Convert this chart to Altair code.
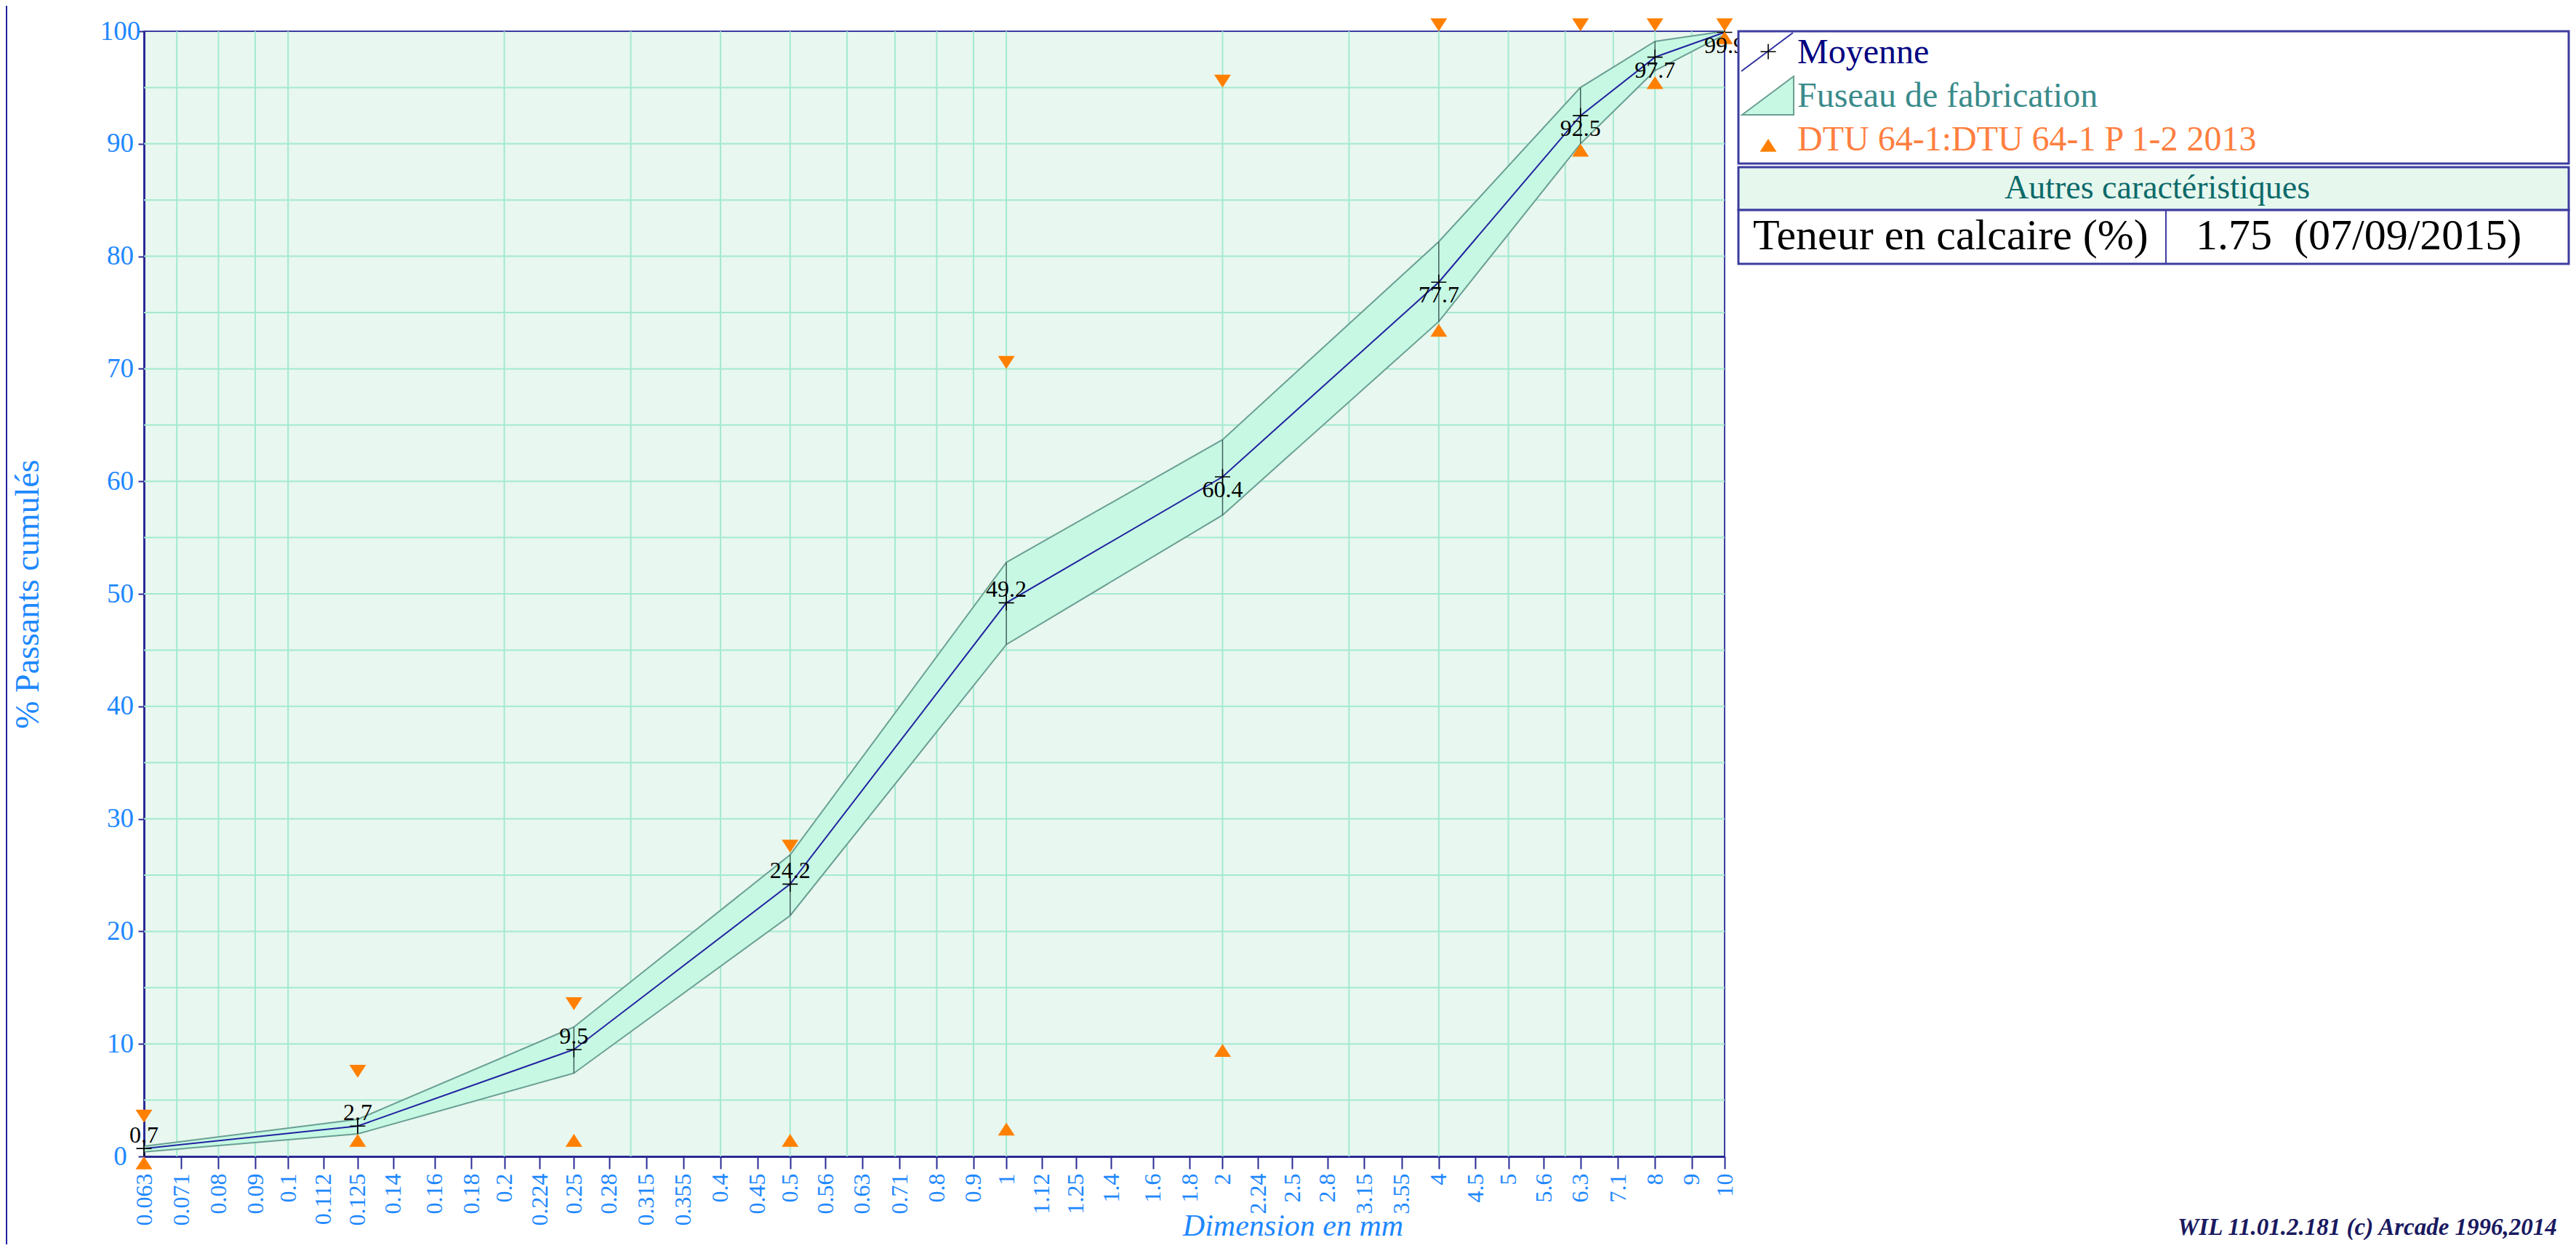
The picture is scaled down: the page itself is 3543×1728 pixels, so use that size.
import altair as alt
import pandas as pd

# ---------------- data ----------------
sieves = [0.063, 0.125, 0.25, 0.5, 1, 2, 4, 6.3, 8, 10]
mean_pass = [0.7, 2.7, 9.5, 24.2, 49.2, 60.4, 77.7, 92.5, 97.7, 99.9]
fuseau_upper = [0.9, 3.3, 11.5, 26.8, 52.8, 63.7, 81.3, 95.0, 99.1, 100.0]
fuseau_lower = [0.4, 2.0, 7.4, 21.4, 45.5, 57.0, 74.2, 90.0, 96.5, 99.7]
dtu_upper = [3, 7, 13, 27, 70, 95, 100, 100, 100, 100]
dtu_lower = [0, 2, 2, 2, 3, 10, 74, 90, 96, 100]

x_tick_values = [0.063, 0.071, 0.08, 0.09, 0.1, 0.112, 0.125, 0.14, 0.16, 0.18,
                 0.2, 0.224, 0.25, 0.28, 0.315, 0.355, 0.4, 0.45, 0.5, 0.56,
                 0.63, 0.71, 0.8, 0.9, 1, 1.12, 1.25, 1.4, 1.6, 1.8, 2, 2.24,
                 2.5, 2.8, 3.15, 3.55, 4, 4.5, 5, 5.6, 6.3, 7.1, 8, 9, 10]
x_grid_values = [0.07, 0.08, 0.09, 0.1, 0.2, 0.3, 0.4, 0.5, 0.6, 0.7, 0.8, 0.9,
                 1, 2, 3, 4, 5, 6, 7, 8, 9]
y_tick_values = [0, 10, 20, 30, 40, 50, 60, 70, 80, 90, 100]
y_grid_values = [5, 10, 15, 20, 25, 30, 35, 40, 45, 50, 55, 60, 65, 70, 75, 80, 85, 90, 95]

legend_labels = ["Moyenne", "Fuseau de fabrication", "DTU 64-1:DTU 64-1 P 1-2 2013"]
table_title = "Autres caractéristiques"
table_row = ["Teneur en calcaire (%)", "1.75 \u00a0(07/09/2015)"]
x_title = "Dimension en mm"
y_title = "% Passants cumulés"
footer = "WIL 11.01.2.181 (c) Arcade 1996,2014"

# ---------------- styles ----------------
FONT = "Liberation Serif"
NAVY = "#000080"
AXIS_NAVY = "#2a2a96"
BLUE = "#1e88ff"
GRID = "#a3ead0"
BG = "#e8f7ef"
BAND_FILL = "#c6f8e3"
BAND_STROKE = "#6a9f94"
ORANGE = "#ff8000"
TEAL = "#3a8b8b"

W, H = 2174, 1548

df = pd.DataFrame({
    "sieve": sieves,
    "mean": mean_pass,
    "upper": fuseau_upper,
    "lower": fuseau_lower,
    "dtu_up": dtu_upper,
    "dtu_low": dtu_lower,
})
one = pd.DataFrame({"k": [0]})

xs = alt.Scale(type="log", domain=[0.063, 10], nice=False)
ys = alt.Scale(domain=[0, 100], nice=False, zero=False)

x_axis = alt.Axis(
    values=x_tick_values, format="~g", labelAngle=-90, labelFont=FONT,
    labelFontSize=32, labelColor=BLUE, labelOverlap=False, labelFlush=False,
    labelPadding=6, tickSize=17, tickColor=AXIS_NAVY, tickWidth=2,
    domainColor=AXIS_NAVY, domainWidth=3, grid=False,
    title=x_title, titleFont=FONT, titleFontStyle="italic", titleFontSize=42,
    titleFontWeight="normal", titleColor=BLUE, titleX=1580, titleY=108,
    titleAlign="center", titleBaseline="alphabetic",
)
y_axis = alt.Axis(
    values=y_tick_values, labelFont=FONT, labelFontSize=37, labelColor=BLUE,
    labelAlign="center", labelBaseline="middle", labelPadding=25,
    tickSize=8, tickColor=AXIS_NAVY, tickWidth=2, domainColor=AXIS_NAVY,
    domainWidth=3, grid=False,
    title=y_title, titleFont=FONT, titleFontSize=46, titleFontWeight="normal",
    titleColor=BLUE, titleX=-160, titleY=H / 2, titleAngle=270,
    titleAlign="center", titleBaseline="middle",
)


def XQ(field):
    return alt.X(field, scale=xs, axis=x_axis)


def YQ(field):
    return alt.Y(field, scale=ys, axis=y_axis)


hgrid = alt.Chart(pd.DataFrame({"g": y_grid_values})).mark_rule(
    color=GRID, strokeWidth=2
).encode(y=YQ("g:Q"))

vgrid = alt.Chart(pd.DataFrame({"g": x_grid_values})).mark_rule(
    color=GRID, strokeWidth=2
).encode(x=XQ("g:Q"))

band = alt.Chart(df).mark_area(color=BAND_FILL, opacity=1).encode(
    x=XQ("sieve:Q"), y=YQ("lower:Q"), y2="upper:Q"
)
band_up = alt.Chart(df).mark_line(color=BAND_STROKE, strokeWidth=2).encode(
    x=XQ("sieve:Q"), y=YQ("upper:Q")
)
band_low = alt.Chart(df).mark_line(color=BAND_STROKE, strokeWidth=2).encode(
    x=XQ("sieve:Q"), y=YQ("lower:Q")
)
vrules = alt.Chart(df).mark_rule(color="#3f5f5a", strokeWidth=1.5).encode(
    x=XQ("sieve:Q"), y=YQ("lower:Q"), y2="upper:Q"
)

mean_line = alt.Chart(df).mark_line(color="#2323a0", strokeWidth=2).encode(
    x=XQ("sieve:Q"), y=YQ("mean:Q"),
)

PLUS = "M-1,0L1,0M0,-1L0,1"
TRI_UP = "M0,0L-0.65,1L0.65,1Z"
TRI_DOWN = "M0,0L-0.65,-1L0.65,-1Z"

plus = alt.Chart(df).mark_point(
    shape=PLUS, filled=False, size=441, color="black", strokeWidth=1.6, opacity=1
).encode(x=XQ("sieve:Q"), y=YQ("mean:Q"))

tri_down = alt.Chart(df).mark_point(
    shape=TRI_DOWN, filled=True, size=1253, color=ORANGE, opacity=1, strokeWidth=0
).encode(x=XQ("sieve:Q"), y=YQ("dtu_up:Q"))

tri_up = alt.Chart(df).mark_point(
    shape=TRI_UP, filled=True, size=1253, color=ORANGE, opacity=1, strokeWidth=0
).encode(x=XQ("sieve:Q"), y=YQ("dtu_low:Q"))

lab_above = alt.Chart(df).transform_filter("datum.mean < 55").mark_text(
    font=FONT, fontSize=32, color="black", align="center", baseline="middle", dy=-18
).encode(x=XQ("sieve:Q"), y=YQ("mean:Q"),
         text=alt.Text("mean:Q", format=".1f"))
lab_below = alt.Chart(df).transform_filter("datum.mean >= 55").mark_text(
    font=FONT, fontSize=32, color="black", align="center", baseline="middle", dy=18
).encode(x=XQ("sieve:Q"), y=YQ("mean:Q"),
         text=alt.Text("mean:Q", format=".1f"))

# ---------------- legend / table (pixel layout, outside plot) ----------------
LX0, LX1 = 2193, 3335
box_style = dict(stroke="#3c3ca0", strokeWidth=3)

legend_box = alt.Chart(one).mark_rect(fill="white", **box_style).encode(
    x=alt.value(LX0), x2=alt.value(LX1), y=alt.value(0), y2=alt.value(182))

leg_line = alt.Chart(one).mark_rule(color="#3030a0", strokeWidth=2).encode(
    x=alt.value(2197), x2=alt.value(2268), y=alt.value(55), y2=alt.value(2))
leg_plus = alt.Chart(one).mark_point(
    shape=PLUS, filled=False, size=441, color="black", strokeWidth=1.6, opacity=1
).encode(x=alt.value(2234), y=alt.value(28))
leg_band = alt.Chart(one).mark_point(
    shape="M-1,0.746L1,-0.746L1,0.746Z", filled=True, fill=BAND_FILL,
    stroke=BAND_STROKE, strokeWidth=2, size=5041, opacity=1
).encode(x=alt.value(2233.5), y=alt.value(88.5))
leg_tri = alt.Chart(one).mark_point(
    shape=TRI_UP, filled=True, size=1253, color=ORANGE, opacity=1, strokeWidth=0
).encode(x=alt.value(2234), y=alt.value(148))


def txt(s, x, y, size, color, align="left", style="normal", weight="normal"):
    return alt.Chart(one).mark_text(
        text=s, font=FONT, fontSize=size, color=color, align=align,
        baseline="alphabetic", fontStyle=style, fontWeight=weight
    ).encode(x=alt.value(x), y=alt.value(y))


leg_t1 = txt(legend_labels[0], 2274, 44, 48, NAVY)
leg_t2 = txt(legend_labels[1], 2274, 104, 48, TEAL)
leg_t3 = txt(legend_labels[2], 2274, 164, 48, "#ff7f40")

tab_head = alt.Chart(one).mark_rect(fill="#e6f7ee", **box_style).encode(
    x=alt.value(LX0), x2=alt.value(LX1), y=alt.value(187), y2=alt.value(246))
tab_row = alt.Chart(one).mark_rect(fill="white", **box_style).encode(
    x=alt.value(LX0), x2=alt.value(LX1), y=alt.value(246), y2=alt.value(320))
tab_div = alt.Chart(one).mark_rule(color="#3c3ca0", strokeWidth=2).encode(
    x=alt.value(2781), y=alt.value(246), y2=alt.value(320))
tab_t0 = txt(table_title, 2769, 230, 46, "#0d6a6a", align="center")
tab_t1 = txt(table_row[0], 2213, 300, 60, "black")
tab_t2 = txt(table_row[1], 2822, 300, 60, "black")

foot = txt(footer, 2797, 1656, 33, "#1a1a60", style="italic", weight="bold")

page_border = alt.Chart(one).mark_rule(color="#2020a0", strokeWidth=2).encode(
    x=alt.value(-189), y=alt.value(-35), y2=alt.value(H + 121))

chart = alt.layer(
    hgrid, vgrid, band, band_up, band_low, vrules, mean_line, plus,
    tri_down, tri_up, lab_above, lab_below,
    legend_box, leg_line, leg_plus, leg_band, leg_tri, leg_t1, leg_t2, leg_t3,
    tab_head, tab_row, tab_div, tab_t0, tab_t1, tab_t2, foot, page_border,
).properties(
    width=W, height=H,
    autosize=alt.AutoSizeParams(type="none"),
    padding={"left": 190, "top": 35, "right": 1163, "bottom": 121},
    background="white",
).configure_view(
    fill=BG, stroke="#3c3ca0", strokeWidth=2
)

chart.save("out.html", embed_options={"renderer": "svg", "actions": False})
